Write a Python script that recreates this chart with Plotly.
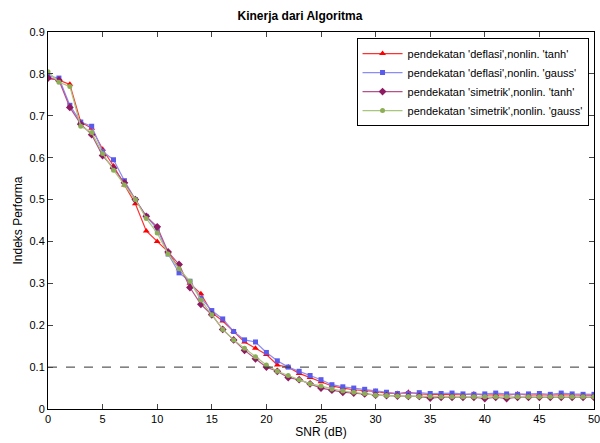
import plotly.graph_objects as go

snr = list(range(0, 51))

defl_tanh = [0.790, 0.785, 0.775, 0.685, 0.670, 0.620, 0.580, 0.535, 0.490, 0.425,
             0.400, 0.375, 0.335, 0.300, 0.275, 0.230, 0.210, 0.185, 0.160, 0.145,
             0.130, 0.105, 0.100, 0.085, 0.075, 0.065, 0.055, 0.050, 0.046, 0.044,
             0.042, 0.038, 0.037, 0.040, 0.036, 0.035, 0.035, 0.034, 0.034, 0.036,
             0.033, 0.034, 0.033, 0.036, 0.033, 0.034, 0.033, 0.034, 0.033, 0.033, 0.033]
defl_gauss = [0.795, 0.790, 0.725, 0.685, 0.675, 0.615, 0.595, 0.545, 0.500, 0.460,
              0.430, 0.370, 0.325, 0.305, 0.265, 0.235, 0.215, 0.185, 0.165, 0.160,
              0.135, 0.115, 0.100, 0.090, 0.080, 0.070, 0.058, 0.053, 0.050, 0.047,
              0.043, 0.040, 0.037, 0.037, 0.039, 0.037, 0.037, 0.038, 0.036, 0.035,
              0.036, 0.038, 0.036, 0.035, 0.036, 0.037, 0.035, 0.038, 0.036, 0.035, 0.035]
sim_tanh = [0.790, 0.785, 0.720, 0.680, 0.655, 0.605, 0.575, 0.540, 0.500, 0.460,
            0.435, 0.375, 0.345, 0.290, 0.250, 0.225, 0.190, 0.165, 0.140, 0.120,
            0.100, 0.090, 0.075, 0.070, 0.060, 0.050, 0.045, 0.040, 0.038, 0.036,
            0.033, 0.032, 0.031, 0.030, 0.030, 0.026, 0.028, 0.028, 0.028, 0.028,
            0.025, 0.028, 0.025, 0.028, 0.028, 0.028, 0.028, 0.028, 0.028, 0.028, 0.028]
sim_gauss = [0.805, 0.780, 0.770, 0.675, 0.660, 0.610, 0.570, 0.535, 0.500, 0.455,
             0.420, 0.370, 0.335, 0.305, 0.260, 0.225, 0.190, 0.165, 0.145, 0.125,
             0.105, 0.090, 0.080, 0.070, 0.060, 0.055, 0.048, 0.043, 0.040, 0.037,
             0.033, 0.032, 0.031, 0.030, 0.030, 0.030, 0.029, 0.029, 0.029, 0.029,
             0.029, 0.029, 0.029, 0.029, 0.029, 0.029, 0.029, 0.029, 0.029, 0.029, 0.029]

names = ["pendekatan 'deflasi',nonlin. 'tanh'",
         "pendekatan 'deflasi',nonlin. 'gauss'",
         "pendekatan 'simetrik',nonlin. 'tanh'",
         "pendekatan 'simetrik',nonlin. 'gauss'"]
threshold = 0.1

fig = go.Figure()
series = [
    (defl_tanh, names[0], "#FF3030", "#FF0000", "triangle-up", 6),
    (defl_gauss, names[1], "#8C8CF5", "#5A5AEB", "square", 5),
    (sim_tanh, names[2], "#B8508A", "#8E1A62", "diamond", 6),
    (sim_gauss, names[3], "#A9C77C", "#8CAE55", "circle", 5),
]
for ys, nm, lcol, mcol, sym, sz in series:
    fig.add_trace(go.Scatter(x=snr, y=ys, name=nm, mode="lines+markers",
                             line=dict(color=lcol, width=1.2),
                             marker=dict(symbol=sym, size=sz, color=mcol)))

fig.add_trace(go.Scatter(x=[0, 50], y=[threshold, threshold], mode="lines",
                         line=dict(color="#333333", width=1, dash="dash"),
                         showlegend=False, hoverinfo="skip"))

axis_common = dict(showgrid=False, zeroline=False, ticks="inside", ticklen=5,
                   showline=True, linecolor="black", linewidth=1, mirror="allticks",
                   tickfont=dict(size=11, color="black"), ticklabeloverflow="allow",
                   automargin=False)
fig.update_layout(
    width=600, height=443,
    margin=dict(l=48, r=6, t=32, b=34, autoexpand=False),
    paper_bgcolor="white", plot_bgcolor="white",
    font=dict(family="Liberation Sans, Arial, sans-serif", color="black"),
    title=dict(text="<b>Kinerja dari Algoritma</b>", x=0.5, xanchor="center",
               y=1 - 16 / 443, yanchor="middle", font=dict(size=12)),
    xaxis=dict(range=[0, 50.0001], tickvals=list(range(0, 51, 5)),
               title=dict(text="SNR (dB)", standoff=2, font=dict(size=12)), **axis_common),
    yaxis=dict(range=[0, 0.9], tickvals=[i / 10 for i in range(10)],
               ticktext=["0", "0.1", "0.2", "0.3", "0.4", "0.5", "0.6", "0.7", "0.8", "0.9"],
               title=dict(text="Indeks Performa", standoff=4, font=dict(size=12)), **axis_common),
    legend=dict(x=0.99, y=0.984, xanchor="right", yanchor="top",
                bgcolor="white", bordercolor="black", borderwidth=1,
                font=dict(size=11), tracegroupgap=0, itemwidth=40),
)

fig.write_html("out.html", config={"displayModeBar": False})

with open("out.html", "r", encoding="utf-8") as f:
    html = f.read()
html = html.replace("<body>", '<body style="margin:0;overflow:hidden">', 1)
with open("out.html", "w", encoding="utf-8") as f:
    f.write(html)
